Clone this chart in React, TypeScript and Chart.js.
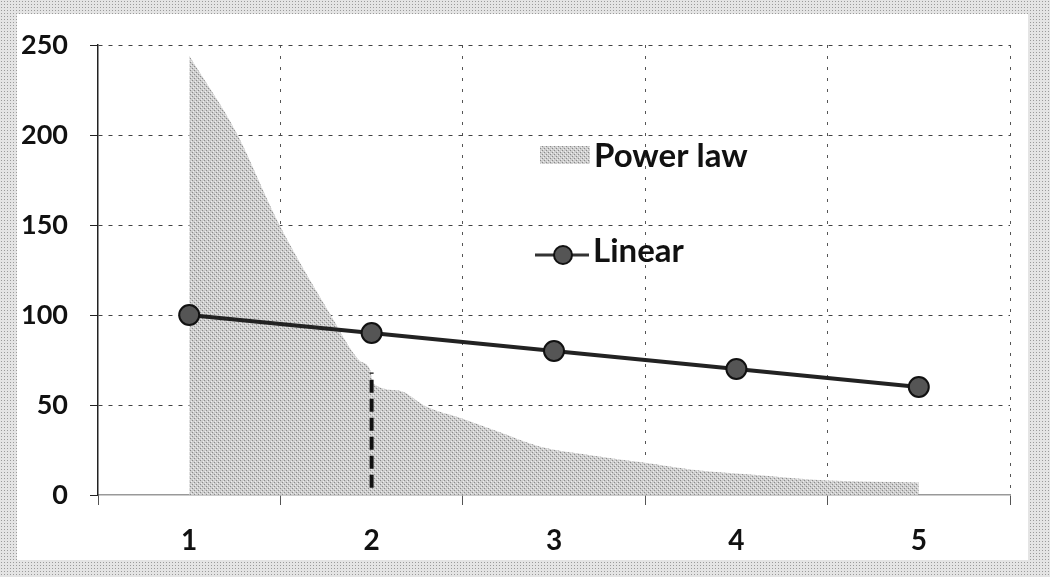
import React, { useEffect, useRef } from "react";
import { Chart, registerables } from "chart.js";

Chart.register(...registerables);

// ---- data ----
const CATEGORY_LABELS = ["1", "2", "3", "4", "5"];
const LINEAR_X = [1, 2, 3, 4, 5];
const LINEAR_VALUES = [100, 90, 80, 70, 60];
const POWER_X = [1, 1.26, 1.49, 1.77, 1.93, 1.99, 2.01, 2.15, 2.3, 2.48, 2.7, 2.92, 3.21, 3.49, 3.76, 4.13, 4.5, 5.0];
const POWER_VALUES = [244, 201, 151, 101, 75, 70, 62, 58, 49, 43, 35, 27, 22, 18, 14, 11, 8, 7];
const MARKER_LINE_X = [2, 2];
const MARKER_LINE_Y = [4, 68];
const Y_TICKS = [0, 50, 100, 150, 200, 250];
const LEGEND_LABELS = ["Power law", "Linear"];

const FONT = "Lato";
const WEIGHT = "bold";

function makePattern(): CanvasPattern | string {
  const c = document.createElement("canvas");
  c.width = 4;
  c.height = 4;
  const g = c.getContext("2d");
  if (!g) return "#c8c8c8";
  g.fillStyle = "#cdcdcd";
  g.fillRect(0, 0, 4, 4);
  g.fillStyle = "#8a8a8a";
  g.fillRect(0, 0, 1, 1);
  g.fillRect(2, 2, 1, 1);
  g.fillStyle = "#eeeeee";
  g.fillRect(1, 3, 1, 1);
  g.fillRect(3, 1, 1, 1);
  const p = g.createPattern(c, "repeat");
  return p || "#c8c8c8";
}

export default function App() {
  const ref = useRef<HTMLCanvasElement | null>(null);

  useEffect(() => {
    if (!ref.current) return;
    const pattern = makePattern();

    const legendPlugin = {
      id: "insideLegend",
      afterDraw(chart: any) {
        const ctx = chart.ctx as CanvasRenderingContext2D;
        ctx.save();
        // Power law swatch
        ctx.fillStyle = pattern as any;
        ctx.fillRect(540, 146, 50, 18);
        ctx.font = `${WEIGHT} 33px ${FONT}`;
        ctx.fillStyle = "#111";
        ctx.textBaseline = "alphabetic";
        ctx.textAlign = "left";
        ctx.fillText(LEGEND_LABELS[0], 594, 167);
        // Linear swatch
        ctx.strokeStyle = "#333";
        ctx.lineWidth = 3;
        ctx.beginPath();
        ctx.moveTo(535, 255);
        ctx.lineTo(589, 255);
        ctx.stroke();
        ctx.beginPath();
        ctx.arc(563, 255, 9, 0, Math.PI * 2);
        ctx.fillStyle = "#555";
        ctx.fill();
        ctx.lineWidth = 2;
        ctx.strokeStyle = "#111";
        ctx.stroke();
        ctx.fillStyle = "#111";
        ctx.fillText(LEGEND_LABELS[1], 593, 262);
        ctx.restore();
      },
    };

    const chart = new Chart(ref.current, {
      type: "line",
      data: {
        datasets: [
          {
            label: LEGEND_LABELS[1],
            data: LINEAR_X.map((x, i) => ({ x, y: LINEAR_VALUES[i] })),
            borderColor: "#222",
            borderWidth: 4,
            pointRadius: 10,
            pointBackgroundColor: "#555",
            pointBorderColor: "#111",
            pointBorderWidth: 2,
            fill: false,
            tension: 0,
            order: 0,
          },
          {
            label: "marker",
            data: MARKER_LINE_X.map((x, i) => ({ x, y: MARKER_LINE_Y[i] })),
            borderColor: "#111",
            borderWidth: 4,
            borderDash: [13, 6],
            pointRadius: 0,
            fill: false,
            order: 1,
          },
          {
            label: LEGEND_LABELS[0],
            data: POWER_X.map((x, i) => ({ x, y: POWER_VALUES[i] })),
            borderWidth: 0,
            borderColor: "rgba(0,0,0,0)",
            backgroundColor: pattern as any,
            pointRadius: 0,
            fill: "origin",
            cubicInterpolationMode: "monotone",
            order: 2,
          },
        ],
      },
      options: {
        responsive: false,
        animation: false,
        layout: { padding: { left: 20, right: 40, top: 45, bottom: 0 } },
        plugins: { legend: { display: false }, tooltip: { enabled: false } },
        scales: {
          x: {
            type: "linear",
            min: 0.5,
            max: 5.5,
            afterFit: (s: any) => {
              s.height = 82;
            },
            ticks: {
              stepSize: 0.5,
              autoSkip: false,
              maxRotation: 0,
              padding: 19,
              color: "#111",
              font: { family: FONT, size: 28, weight: WEIGHT },
              callback: (v: any) => (Number.isInteger(v) ? CATEGORY_LABELS[v - 1] : ""),
            },
            grid: {
              color: (c: any) =>
                c.tick && !Number.isInteger(c.tick.value) && c.tick.value > 0.5 ? "#555" : "rgba(0,0,0,0)",
              tickColor: (c: any) =>
                c.tick && !Number.isInteger(c.tick.value) ? "#555" : "rgba(0,0,0,0)",
              tickLength: 10,
              lineWidth: 1,
            },
            border: { display: true, color: "#999", width: 1.5, dash: [3, 8] },
          },
          y: {
            min: 0,
            max: 250,
            afterFit: (s: any) => {
              s.width = 78;
            },
            afterBuildTicks: (s: any) => {
              s.ticks = Y_TICKS.map((v) => ({ value: v }));
            },
            ticks: {
              padding: 22,
              color: "#111",
              font: { family: FONT, size: 27, weight: WEIGHT },
            },
            grid: {
              color: (c: any) => (c.tick && c.tick.value > 0 ? "#444" : "rgba(0,0,0,0)"),
              tickColor: "#222",
              tickLength: 8,
              lineWidth: 1,
            },
            border: { display: true, color: "#222", width: 1.5, dash: [4, 6] },
          },
        },
      },
      plugins: [legendPlugin],
    } as any);

    return () => chart.destroy();
  }, []);

  return (
    <div
      style={{
        position: "fixed",
        left: 0,
        top: 0,
        width: 1050,
        height: 577,
        backgroundColor: "#e4e4e4",
        backgroundImage: "radial-gradient(#9a9a9a 0.7px, transparent 0.9px)",
        backgroundSize: "3px 3px",
        overflow: "hidden",
      }}
    >
      <div
        style={{
          position: "absolute",
          left: 17,
          top: 14,
          width: 1011,
          height: 546,
          background: "#fff",
        }}
      />
      <canvas
        ref={ref}
        width={1050}
        height={577}
        style={{ position: "absolute", left: 0, top: 0, display: "block" }}
      />
    </div>
  );
}
